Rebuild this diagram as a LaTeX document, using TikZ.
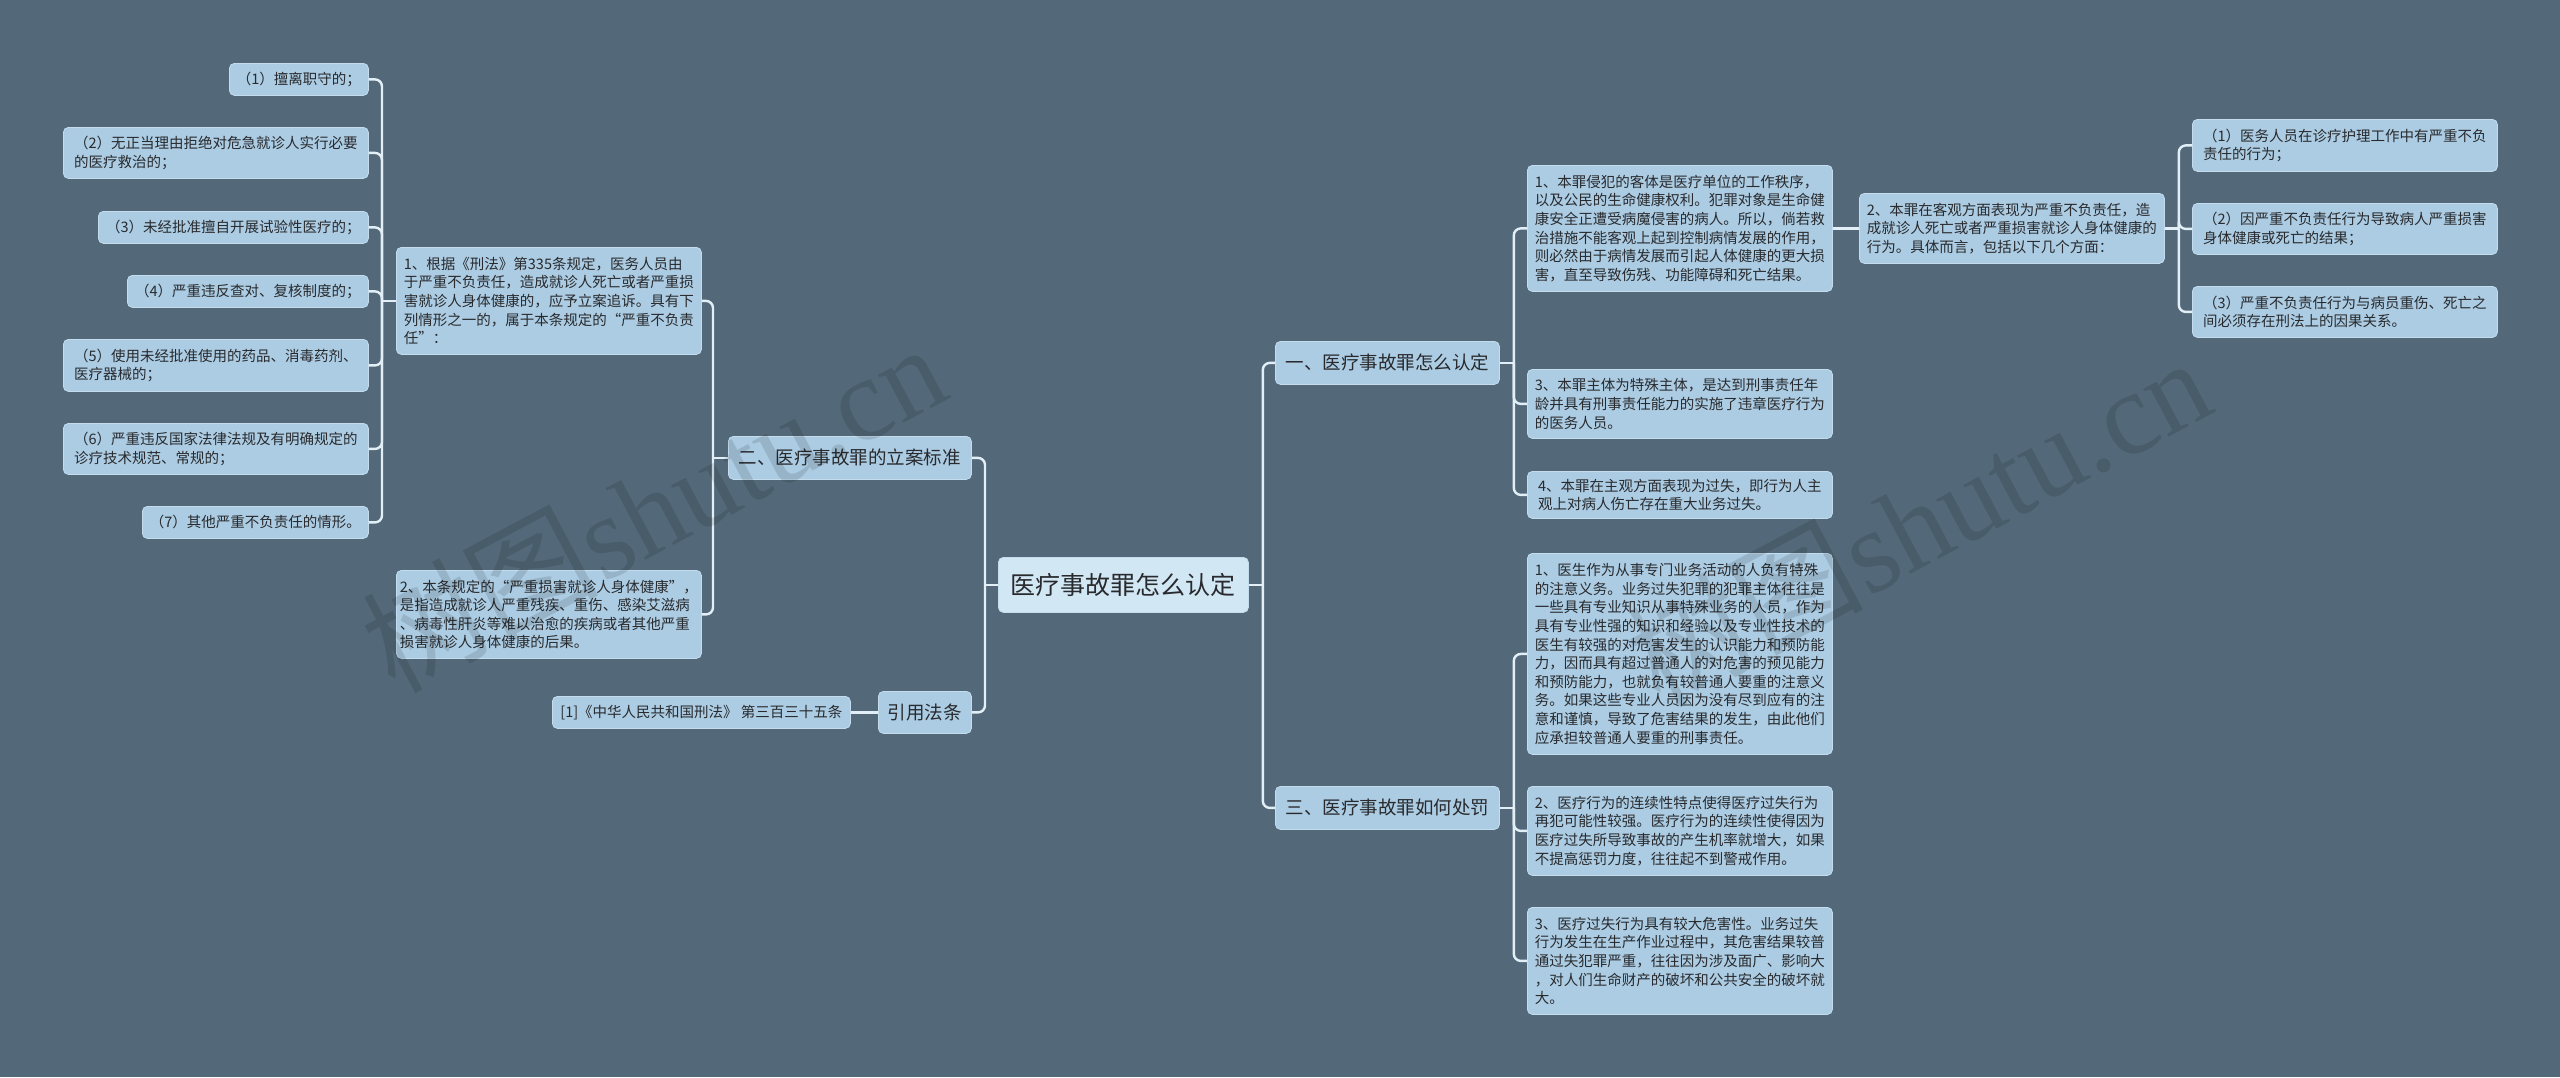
\documentclass[tikz,border=0pt]{standalone}
\usepackage{fontspec}
\setmainfont{Noto Sans CJK SC}
\newfontfamily\wmlatin{Liberation Serif}
\definecolor{bgc}{RGB}{83,105,121}
\definecolor{boxfill}{RGB}{172,204,227}
\definecolor{boxedge}{RGB}{196,221,238}
\definecolor{rootfill}{RGB}{210,231,244}
\definecolor{txt}{RGB}{40,42,45}
\definecolor{linec}{RGB}{226,239,246}
\tikzset{
  box/.style={draw=boxedge, line width=0.8pt, fill=boxfill, rounded corners=5pt,
    inner sep=0pt, align=left, text=txt, anchor=north west,
    font=\fontsize{14.5pt}{18.6pt}\selectfont},
  lvone/.style={box, align=center, font=\fontsize{18.5pt}{22pt}\selectfont},
  rootbox/.style={box, fill=rootfill, align=center, font=\fontsize{25pt}{30pt}\selectfont},
  conn/.style={draw=linec, line width=2.4pt, rounded corners=7pt},
  wm/.style={text=black, opacity=0.12, inner sep=0pt}
}
\begin{document}
\begin{tikzpicture}[x=1pt,y=-1pt]
\fill[bgc] (0,0) rectangle (2560,1077);
\useasboundingbox (0,0) rectangle (2560,1077);

% root and first level
\node[rootbox, minimum width=250pt, minimum height=55pt] (root) at (998,557) {医疗事故罪怎么认定};
\node[lvone, minimum width=224pt, minimum height=43pt] (L1a) at (1275,341) {一、医疗事故罪怎么认定};
\node[lvone, minimum width=224pt, minimum height=43pt] (L1c) at (1275,786) {三、医疗事故罪如何处罚};
\node[lvone, minimum width=243pt, minimum height=43pt] (L1b) at (728,436) {二、医疗事故罪的立案标准};
\node[lvone, minimum width=93pt, minimum height=42pt] (L1d) at (878,691) {引用法条};

% reference
\node[box, align=center, minimum width=298pt, minimum height=32pt] (ref1) at (552,696) {[1]《中华人民共和国刑法》 第三百三十五条};

% right, branch one
\node[box, minimum width=305pt, minimum height=126pt] (A1) at (1527,165) {1、本罪侵犯的客体是医疗单位的工作秩序，\\以及公民的生命健康权利。犯罪对象是生命健\\康安全正遭受病魔侵害的病人。所以，倘若救\\治措施不能客观上起到控制病情发展的作用，\\则必然由于病情发展而引起人体健康的更大损\\害，直至导致伤残、功能障碍和死亡结果。};
\node[box, minimum width=305pt, minimum height=70pt] (A2) at (1859,193) {2、本罪在客观方面表现为严重不负责任，造\\成就诊人死亡或者严重损害就诊人身体健康的\\行为。具体而言，包括以下几个方面：};
\node[box, minimum width=305pt, minimum height=52pt] (A2a) at (2192,119) {（1）医务人员在诊疗护理工作中有严重不负\\责任的行为；};
\node[box, minimum width=305pt, minimum height=51pt] (A2b) at (2192,203) {（2）因严重不负责任行为导致病人严重损害\\身体健康或死亡的结果；};
\node[box, minimum width=305pt, minimum height=51pt] (A2c) at (2192,286) {（3）严重不负责任行为与病员重伤、死亡之\\间必须存在刑法上的因果关系。};
\node[box, minimum width=305pt, minimum height=69pt] (A3) at (1527,369) {3、本罪主体为特殊主体，是达到刑事责任年\\龄并具有刑事责任能力的实施了违章医疗行为\\的医务人员。};
\node[box, minimum width=305pt, minimum height=47pt] (A4) at (1527,471) {4、本罪在主观方面表现为过失，即行为人主\\观上对病人伤亡存在重大业务过失。};

% right, branch three
\node[box, minimum width=305pt, minimum height=201pt] (C1) at (1527,553) {1、医生作为从事专门业务活动的人负有特殊\\的注意义务。业务过失犯罪的犯罪主体往往是\\一些具有专业知识从事特殊业务的人员，作为\\具有专业性强的知识和经验以及专业性技术的\\医生有较强的对危害发生的认识能力和预防能\\力，因而具有超过普通人的对危害的预见能力\\和预防能力，也就负有较普通人要重的注意义\\务。如果这些专业人员因为没有尽到应有的注\\意和谨慎，导致了危害结果的发生，由此他们\\应承担较普通人要重的刑事责任。};
\node[box, minimum width=305pt, minimum height=89pt] (C2) at (1527,786) {2、医疗行为的连续性特点使得医疗过失行为\\再犯可能性较强。医疗行为的连续性使得因为\\医疗过失所导致事故的产生机率就增大，如果\\不提高惩罚力度，往往起不到警戒作用。};
\node[box, minimum width=305pt, minimum height=107pt] (C3) at (1527,907) {3、医疗过失行为具有较大危害性。业务过失\\行为发生在生产作业过程中，其危害结果较普\\通过失犯罪严重，往往因为涉及面广、影响大\\，对人们生命财产的破坏和公共安全的破坏就\\大。};

% left, branch two
\node[box, minimum width=305pt, minimum height=107pt] (B1) at (396,247) {1、根据《刑法》第335条规定，医务人员由\\于严重不负责任，造成就诊人死亡或者严重损\\害就诊人身体健康的，应予立案追诉。具有下\\列情形之一的，属于本条规定的“严重不负责\\任”：};
\node[box, minimum width=305pt, minimum height=88pt] (B2) at (396,570) {2、本条规定的“严重损害就诊人身体健康”，\\是指造成就诊人严重残疾、重伤、感染艾滋病\\、病毒性肝炎等难以治愈的疾病或者其他严重\\损害就诊人身体健康的后果。};

\node[box, align=center, minimum width=139pt, minimum height=32pt] (P1) at (229,63) {（1）擅离职守的；};
\node[box, minimum width=305pt, minimum height=51pt] (P2) at (63,127) {（2）无正当理由拒绝对危急就诊人实行必要\\的医疗救治的；};
\node[box, align=center, minimum width=270pt, minimum height=32pt] (P3) at (98,211) {（3）未经批准擅自开展试验性医疗的；};
\node[box, align=center, minimum width=241pt, minimum height=32pt] (P4) at (127,275) {（4）严重违反查对、复核制度的；};
\node[box, minimum width=305pt, minimum height=52pt] (P5) at (63,339) {（5）使用未经批准使用的药品、消毒药剂、\\医疗器械的；};
\node[box, minimum width=305pt, minimum height=51pt] (P6) at (63,423) {（6）严重违反国家法律法规及有明确规定的\\诊疗技术规范、常规的；};
\node[box, align=center, minimum width=226pt, minimum height=32pt] (P7) at (142,506) {（7）其他严重不负责任的情形。};

% junctions
\coordinate (jR) at ([xshift=14pt]root.east);
\coordinate (jL) at ([xshift=-13pt]root.west);
\coordinate (jA) at ([xshift=14pt]L1a.east);
\coordinate (jA2) at ([xshift=14pt]A2.east);
\coordinate (jC) at ([xshift=14pt]L1c.east);
\coordinate (jB) at ([xshift=-15pt]L1b.west);
\coordinate (jP) at ([xshift=-14pt]B1.west);

% connectors
\draw[conn] (root.east) -- (jR);
\draw[conn] (jR) |- (L1a.west);
\draw[conn] (jR) |- (L1c.west);
\draw[conn] (root.west) -- (jL);
\draw[conn] (jL) |- (L1b.east);
\draw[conn] (jL) |- (L1d.east);
\draw[conn] (L1d.west) -- (ref1.east);
\draw[conn] (L1a.east) -- (jA);
\draw[conn] (jA) |- (A1.west);
\draw[conn] (jA) |- (A3.west);
\draw[conn] (jA) |- (A4.west);
\draw[conn] (A1.east) -- (A2.west);
\draw[conn] (A2.east) -- (jA2);
\draw[conn] (jA2) |- (A2a.west);
\draw[conn] (jA2) |- (A2b.west);
\draw[conn] (jA2) |- (A2c.west);
\draw[conn] (L1c.east) -- (jC);
\draw[conn] (jC) |- (C1.west);
\draw[conn] (jC) |- (C2.west);
\draw[conn] (jC) |- (C3.west);
\draw[conn] (L1b.west) -- (jB);
\draw[conn] (jB) |- (B1.east);
\draw[conn] (jB) |- (B2.east);
\draw[conn] (B1.west) -- (jP);
\draw[conn] (jP) |- (P1.east);
\draw[conn] (jP) |- (P2.east);
\draw[conn] (jP) |- (P3.east);
\draw[conn] (jP) |- (P4.east);
\draw[conn] (jP) |- (P5.east);
\draw[conn] (jP) |- (P6.east);
\draw[conn] (jP) |- (P7.east);

% watermarks
\node[wm, rotate=28] (wm1) at (653,506) {\fontsize{118pt}{120pt}\selectfont 树图\wmlatin shutu.cn};
\node[wm, rotate=28] (wm2) at (1918,520) {\fontsize{118pt}{120pt}\selectfont 树图\wmlatin shutu.cn};
\end{tikzpicture}
\end{document}
